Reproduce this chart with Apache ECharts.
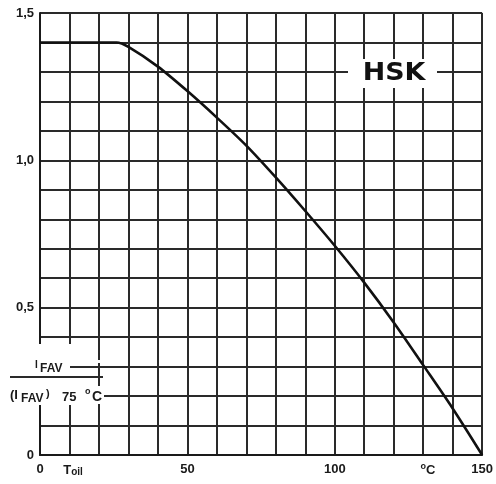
<!DOCTYPE html>
<html>
<head>
<meta charset="utf-8">
<script src="https://cdn.jsdelivr.net/npm/echarts@6/dist/echarts.min.js"></script>
<style>html,body{margin:0;padding:0;background:#fff}#c{width:496px;height:484px}</style>
</head>
<body>
<div id="c"></div>
<script>
// Case temperature T_oil (°C)
var tempC = [0, 26, 30, 40, 50, 60, 70, 80, 90, 100, 110, 120, 130, 140, 150];
// Relative current I_FAV / (I_FAV) 75 °C
var ratio = [1.40, 1.40, 1.385, 1.318, 1.235, 1.145, 1.05, 0.942, 0.828, 0.71, 0.585, 0.45, 0.305, 0.158, 0.0];
var xTickLabels = [0, 50, 100, 150];
var yTickLabels = [0, 0.5, 1.0, 1.5];

var data = tempC.map(function (t, i) { return [t, ratio[i]]; });
var chart = echarts.init(document.getElementById('c'));
var ink = '#1a1a1a';
var font = 'Liberation Sans, Arial, sans-serif';
function isTick(v, list) {
  return list.some(function (t) { return Math.abs(v - t) < 1e-6; });
}
chart.setOption({
  animation: false,
  backgroundColor: '#fff',
  grid: { left: 40, right: 13, top: 13, bottom: 29, containLabel: false },
  xAxis: {
    type: 'value', min: 0, max: 150, interval: 10,
    axisLine: { show: true, lineStyle: { color: ink, width: 2 } },
    axisTick: { show: false },
    splitLine: { show: true, lineStyle: { color: '#2a2a2a', width: 2 } },
    axisLabel: {
      color: ink, fontFamily: font, fontWeight: 'bold', fontSize: 13, margin: 8,
      showMaxLabel: true, showMinLabel: true,
      formatter: function (v) { return isTick(v, xTickLabels) ? String(v) : ''; }
    }
  },
  yAxis: {
    type: 'value', min: 0, max: 1.5, interval: 0.1,
    axisLine: { show: true, lineStyle: { color: ink, width: 2 } },
    axisTick: { show: false },
    splitLine: { show: true, lineStyle: { color: '#2a2a2a', width: 2 } },
    axisLabel: {
      color: ink, fontFamily: font, fontWeight: 'bold', fontSize: 13, margin: 6,
      showMaxLabel: true, showMinLabel: true,
      formatter: function (v) {
        if (!isTick(v, yTickLabels)) return '';
        return v === 0 ? '0' : v.toFixed(1).replace('.', ',');
      }
    }
  },
  series: [{
    type: 'line', data: data, smooth: 0.3, symbol: 'none',
    lineStyle: { color: '#111', width: 2.6 }, z: 5
  }],
  graphic: [
    { type: 'rect', z: 100, shape: { x: 348, y: 59, width: 89, height: 29 }, style: { fill: '#fff' } },
    { type: 'text', z: 101, x: 394, y: 74, scaleX: 1.12,
      style: { text: 'HSK', fill: '#111', font: '900 24px DejaVu Sans, sans-serif', textAlign: 'center', textVerticalAlign: 'middle' } },
    { type: 'rect', z: 100, shape: { x: 0, y: 344, width: 97, height: 61 }, style: { fill: '#fff' } },
    { type: 'rect', z: 100, shape: { x: 68, y: 360, width: 32, height: 3 }, style: { fill: '#fff' } },
    { type: 'rect', z: 100, shape: { x: 85, y: 386, width: 20, height: 18 }, style: { fill: '#fff' } },
    { type: 'text', z: 101, x: 35, y: 360, style: { text: 'I', fill: ink, font: 'bold 10px ' + font } },
    { type: 'text', z: 101, x: 40, y: 363, style: { text: 'FAV', fill: ink, font: 'bold 12px ' + font } },
    { type: 'line', z: 101, shape: { x1: 70, y1: 367, x2: 100, y2: 367 }, style: { stroke: '#2a2a2a', lineWidth: 2 } },
    { type: 'line', z: 101, shape: { x1: 10, y1: 377, x2: 103, y2: 377 }, style: { stroke: '#2a2a2a', lineWidth: 2 } },
    { type: 'text', z: 101, x: 10, y: 389, style: { text: '(I', fill: ink, font: 'bold 13px ' + font } },
    { type: 'text', z: 101, x: 21, y: 393, style: { text: 'FAV', fill: ink, font: 'bold 12px ' + font } },
    { type: 'text', z: 101, x: 46, y: 388, style: { text: ')', fill: ink, font: 'bold 11px ' + font } },
    { type: 'text', z: 101, x: 62, y: 391, style: { text: '75', fill: ink, font: 'bold 13px ' + font } },
    { type: 'text', z: 101, x: 85, y: 387, style: { text: 'o', fill: ink, font: 'bold 9px ' + font } },
    { type: 'text', z: 101, x: 92, y: 390, style: { text: 'C', fill: ink, font: 'bold 14px ' + font } },
    { type: 'line', z: 101, shape: { x1: 104, y1: 396, x2: 110, y2: 396 }, style: { stroke: '#2a2a2a', lineWidth: 2 } },
    { type: 'text', z: 101, x: 73, y: 470, style: {
      rich: { p: { font: 'bold 13px ' + font, fill: ink }, s: { font: 'bold 10px ' + font, fill: ink, padding: [5, 0, 0, 0] } },
      text: '{p|T}{s|oil}', textAlign: 'center', textVerticalAlign: 'middle' } },
    { type: 'text', z: 101, x: 428, y: 470, style: {
      rich: { p: { font: 'bold 13px ' + font, fill: ink }, d: { font: 'bold 9px ' + font, fill: ink, padding: [0, 0, 6, 0] } },
      text: '{d|o}{p|C}', textAlign: 'center', textVerticalAlign: 'middle' } }
  ]
});
</script>
</body>
</html>
